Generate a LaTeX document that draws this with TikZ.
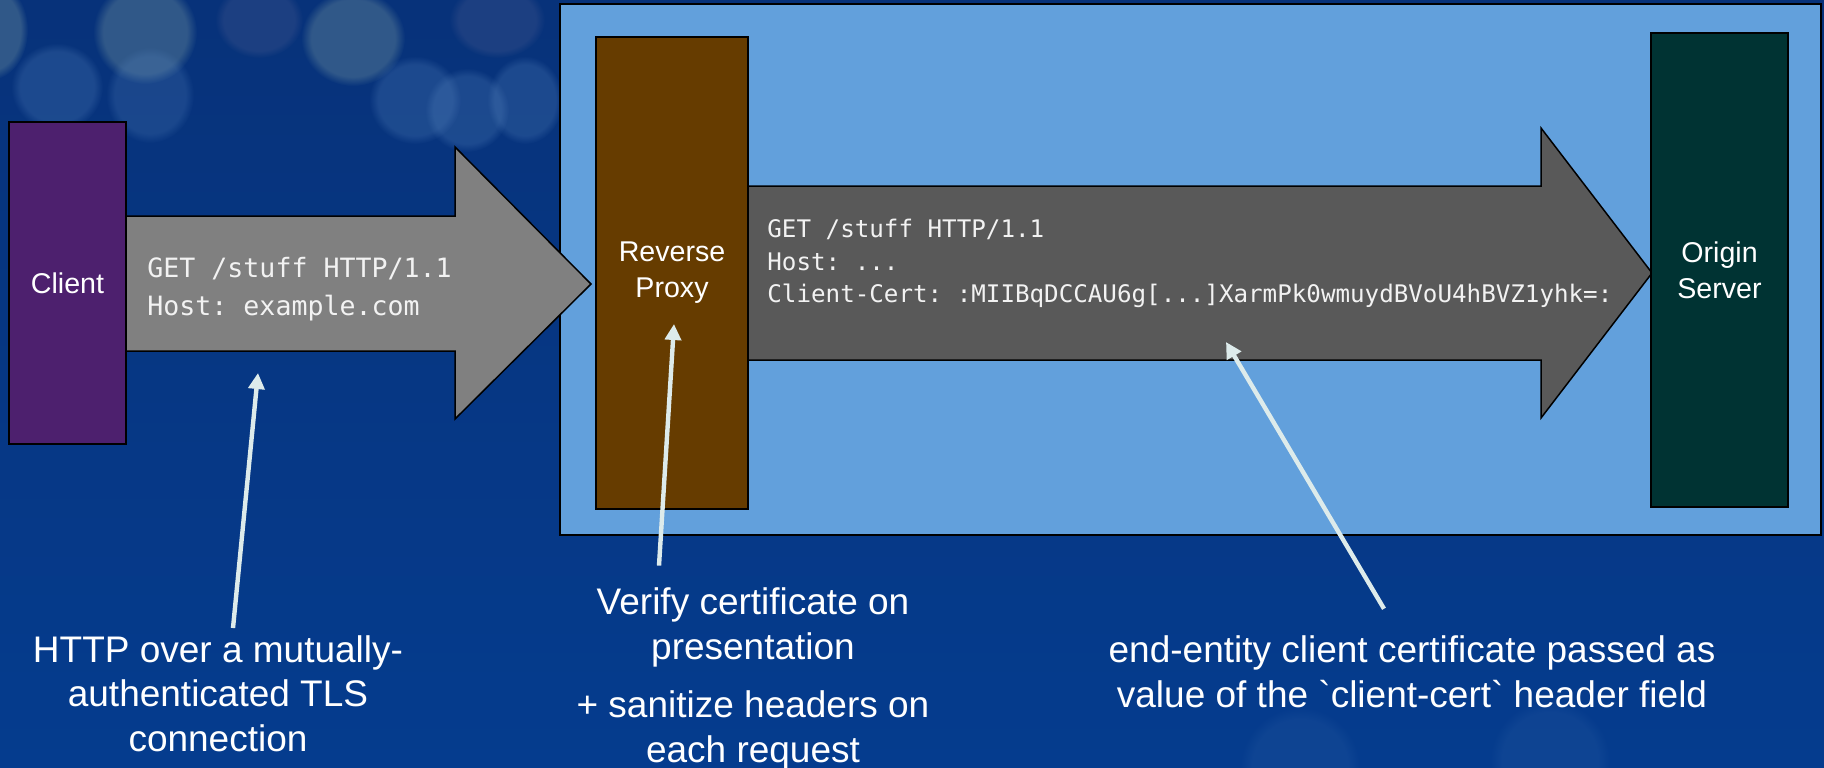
\documentclass[tikz,border=0pt]{standalone}
\usepackage{fontspec}
\setmainfont{Liberation Sans}[Ligatures=TeXOff]
\newfontfamily\codefont{DejaVu Sans Mono}
\usepackage{xcolor}
\usetikzlibrary{positioning}
\usetikzlibrary{arrows.meta}
\usetikzlibrary{fadings}

\definecolor{bgtop}{HTML}{07327A}
\definecolor{bgbottom}{HTML}{053C8E}
\definecolor{zoneblue}{HTML}{62A0DC}
\definecolor{clientpurple}{HTML}{4D206E}
\definecolor{proxybrown}{HTML}{663C00}
\definecolor{origingreen}{HTML}{003333}
\definecolor{hopgray}{HTML}{808080}
\definecolor{fwdgray}{HTML}{595959}
\definecolor{codewhite}{HTML}{F2F2F2}
\definecolor{pointercol}{HTML}{DDEBEB}
\definecolor{bokehteal}{HTML}{86A6A6}
\definecolor{bokehblue}{HTML}{5E8CC4}
\definecolor{bokehdim}{HTML}{6A6E9A}

\frenchspacing

\begin{document}
\begin{tikzpicture}[x=1pt,y=-1pt,
    box/.style={draw=black,line width=1pt,text=white,align=center,inner sep=0pt,
        font=\fontsize{14.3}{18}\selectfont},
    note/.style={text=white,align=center,inner sep=0pt,
        font=\fontsize{18.5}{22.25}\selectfont},
    code/.style={text=codewhite,align=left,inner sep=0pt,anchor=west},
    flow/.style={draw=black,line width=0.75pt},
    pointer/.style={draw=pointercol,line width=2.2pt,-{Triangle[length=8pt,width=8pt]}},
    bokeh/.style={path fading=circle with fuzzy edge 20 percent}]

    % backdrop
    \shade[top color=bgtop,bottom color=bgbottom] (0,0) rectangle (912,383.5);
    \useasboundingbox (0,0) rectangle (912,383.5);

    \fill[bokeh,bokehteal,opacity=0.33] (-5,15) ellipse [x radius=19pt,y radius=25pt];
    \fill[bokeh,bokehteal,opacity=0.33] (72.5,16) ellipse [x radius=26pt,y radius=26pt];
    \fill[bokeh,bokehdim,opacity=0.22] (129.5,10) ellipse [x radius=22pt,y radius=19pt];
    \fill[bokeh,bokehteal,opacity=0.33] (176.5,19) ellipse [x radius=26pt,y radius=24pt];
    \fill[bokeh,bokehdim,opacity=0.22] (248.5,10) ellipse [x radius=24pt,y radius=19pt];
    \fill[bokeh,bokehblue,opacity=0.25] (28.5,43.5) ellipse [x radius=23pt,y radius=22pt];
    \fill[bokeh,bokehblue,opacity=0.22] (75,47.5) ellipse [x radius=22pt,y radius=24pt];
    \fill[bokeh,bokehblue,opacity=0.25] (207.5,50) ellipse [x radius=23pt,y radius=22pt];
    \fill[bokeh,bokehblue,opacity=0.25] (233.5,55) ellipse [x radius=21pt,y radius=21pt];
    \fill[bokeh,bokehblue,opacity=0.25] (262.5,50) ellipse [x radius=19pt,y radius=22pt];
    \fill[bokeh,bokehblue,opacity=0.1] (650,383.5) ellipse [x radius=30pt,y radius=30pt];
    \fill[bokeh,bokehblue,opacity=0.1] (775,380) ellipse [x radius=30pt,y radius=30pt];

    % trusted zone behind the proxy
    \draw[draw=black,line width=1pt,fill=zoneblue] (280,2) rectangle (910.5,267.5);

    % request over mutual TLS
    \draw[flow,fill=hopgray] (63,108) -- (227.5,108) -- (227.5,73.5) -- (295.5,142)
        -- (227.5,209.5) -- (227.5,175.5) -- (63,175.5) -- cycle;
    % forwarded request
    \draw[flow,fill=fwdgray] (374,93) -- (770.5,93) -- (770.5,64) -- (826,136.5)
        -- (770.5,209) -- (770.5,180) -- (374,180) -- cycle;

    \node[box,fill=clientpurple,minimum width=58.5pt,minimum height=161pt] (client) at (33.75,141.5) {Client};
    \node[box,fill=proxybrown,minimum width=76pt,minimum height=236pt] (proxy) at (336,136.5) {Reverse\\Proxy};
    \node[box,fill=origingreen,minimum width=68.5pt,minimum height=237pt] (origin) at (859.75,135) {Origin\\Server};

    \node[code,font=\codefont\fontsize{13.3}{19}\selectfont] (req) at (73.5,144.5)
        {GET /stuff HTTP/1.1\\Host: example.com};
    \node[code,font=\codefont\fontsize{12.1}{16.15}\selectfont] (fwd) at (383.5,131.75)
        {GET /stuff HTTP/1.1\\Host: ...\\Client-Cert: :MIIBqDCCAU6g[...]XarmPk0wmuydBVoU4hBVZ1yhk=:};

    % notes under the diagram
    \node[note] (tlsnote) at (109,346.75) {HTTP over a mutually-\\authenticated TLS\\connection};
    \node[note] (checknote) at (376.5,339.5) {Verify certificate on\\presentation\\[7pt]+ sanitize headers on\\each request};
    \node[note] (certnote) at (706,336) {end-entity client certificate passed as\\value of the `client-cert` header field};

    \coordinate (tlstip) at (129,186.5);
    \coordinate (checktip) at (337,162);
    \coordinate (certtip) at (613,171);

    \draw[pointer] ([shift={(7.5,-3.5)}]tlsnote.north) -- (tlstip);
    \draw[pointer] ([shift={(-47,-11)}]checknote.north) -- (checktip);
    \draw[pointer] ([shift={(-14,-13.5)}]certnote.north) -- (certtip);

\end{tikzpicture}
\end{document}
